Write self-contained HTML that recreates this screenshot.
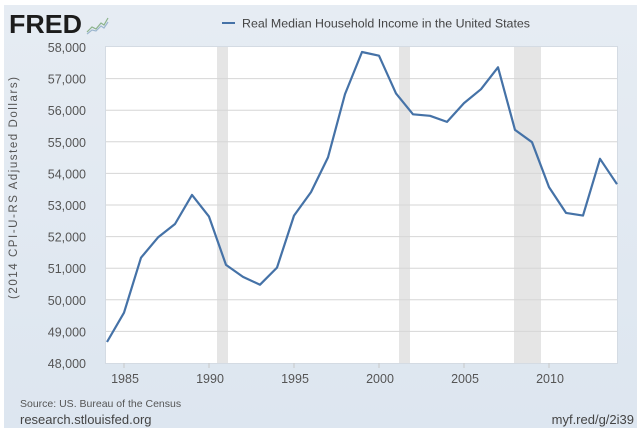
<!DOCTYPE html>
<html><head><meta charset="utf-8"><style>
html,body{margin:0;padding:0;background:#fff;}
body{width:640px;height:433px;overflow:hidden;}
</style></head><body>
<svg width="640" height="433" viewBox="0 0 640 433" xmlns="http://www.w3.org/2000/svg" font-family="Liberation Sans, sans-serif">
<defs>
<linearGradient id="bg" x1="0" y1="0" x2="0" y2="1">
<stop offset="0" stop-color="#e6ecf3"/>
<stop offset="1" stop-color="#dde6f0"/>
</linearGradient>
</defs>
<rect x="0" y="0" width="640" height="433" fill="#ffffff"/>
<rect x="4" y="5" width="633" height="423" fill="url(#bg)"/>
<!-- plot area -->
<rect x="105" y="46" width="513" height="318" fill="#d4dbe3"/>
<rect x="106" y="47" width="511" height="316" fill="#ffffff"/>
<!-- recessions -->
<rect x="217" y="47" width="11" height="316" fill="#e5e5e5"/>
<rect x="399" y="47" width="11" height="316" fill="#e5e5e5"/>
<rect x="514" y="47" width="27" height="316" fill="#e5e5e5"/>
<!-- gridlines -->
<g stroke="#d6d6d6" stroke-width="1">
<line x1="106" x2="617" y1="78.6" y2="78.6"/>
<line x1="106" x2="617" y1="110.2" y2="110.2"/>
<line x1="106" x2="617" y1="141.8" y2="141.8"/>
<line x1="106" x2="617" y1="173.4" y2="173.4"/>
<line x1="106" x2="617" y1="205" y2="205"/>
<line x1="106" x2="617" y1="236.6" y2="236.6"/>
<line x1="106" x2="617" y1="268.2" y2="268.2"/>
<line x1="106" x2="617" y1="299.8" y2="299.8"/>
<line x1="106" x2="617" y1="331.4" y2="331.4"/>
</g>
<!-- x ticks -->
<g stroke="#c8c8c8" stroke-width="1">
<line x1="124" x2="124" y1="363" y2="368"/>
<line x1="209" x2="209" y1="363" y2="368"/>
<line x1="294" x2="294" y1="363" y2="368"/>
<line x1="379" x2="379" y1="363" y2="368"/>
<line x1="464" x2="464" y1="363" y2="368"/>
<line x1="549" x2="549" y1="363" y2="368"/>
</g>
<!-- series -->
<polyline fill="none" stroke="#4572a7" stroke-width="2.2" stroke-linejoin="round" points="107,342 124,312.7 141,257.7 158,237.4 175,224 192,194.9 209,216.6 226,264.9 243,276.9 260,284.7 277,267.6 294,215.6 311,192.1 328,157.4 345,94.1 362,52 379,55.7 396,93.4 413,114.3 430,115.8 447,121.9 464,103.1 481,89.2 498,67.3 515,129.9 532,142.2 549,187.1 566,212.9 583,215.6 600,158.8 617,184.2"/>
<!-- y tick labels -->
<g fill="#555" font-size="12.5" text-anchor="end">
<text x="86" y="52">58,000</text>
<text x="86" y="83.6">57,000</text>
<text x="86" y="115.2">56,000</text>
<text x="86" y="146.8">55,000</text>
<text x="86" y="178.4">54,000</text>
<text x="86" y="210">53,000</text>
<text x="86" y="241.6">52,000</text>
<text x="86" y="273.2">51,000</text>
<text x="86" y="304.8">50,000</text>
<text x="86" y="336.4">49,000</text>
<text x="86" y="368">48,000</text>
</g>
<!-- x tick labels -->
<g fill="#555" font-size="12.5" text-anchor="middle">
<text x="125" y="383">1985</text>
<text x="210" y="383">1990</text>
<text x="295" y="383">1995</text>
<text x="380" y="383">2000</text>
<text x="465" y="383">2005</text>
<text x="550" y="383">2010</text>
</g>
<!-- y axis title -->
<text transform="translate(17,188) rotate(-90)" fill="#555" font-size="11.5" text-anchor="middle" textLength="222" lengthAdjust="spacing">(2014 CPI-U-RS Adjusted Dollars)</text>
<!-- legend -->
<line x1="222" x2="235" y1="23" y2="23" stroke="#4572a7" stroke-width="2"/>
<text x="242" y="27.5" fill="#444" font-size="12.4" textLength="288" lengthAdjust="spacingAndGlyphs">Real Median Household Income in the United States</text>
<!-- FRED logo -->
<text x="9" y="33" fill="#1c1c1c" font-size="26" font-weight="bold" textLength="73" lengthAdjust="spacingAndGlyphs">FRED</text>
<g fill="none" stroke-width="1.2">
<polyline points="87,32 92,27 96,29 101,23 104,25 108,18" stroke="#8bb38a"/>
<polyline points="87,34 92,30 96,31 101,26 104,28 108,22" stroke="#9db7cf"/>
</g>
<!-- footer -->
<text x="20" y="407" fill="#555" font-size="10.5">Source: US. Bureau of the Census</text>
<text x="20" y="424" fill="#444" font-size="13">research.stlouisfed.org</text>
<text x="634" y="424" fill="#444" font-size="13" text-anchor="end">myf.red/g/2i39</text>
</svg>
</body></html>
